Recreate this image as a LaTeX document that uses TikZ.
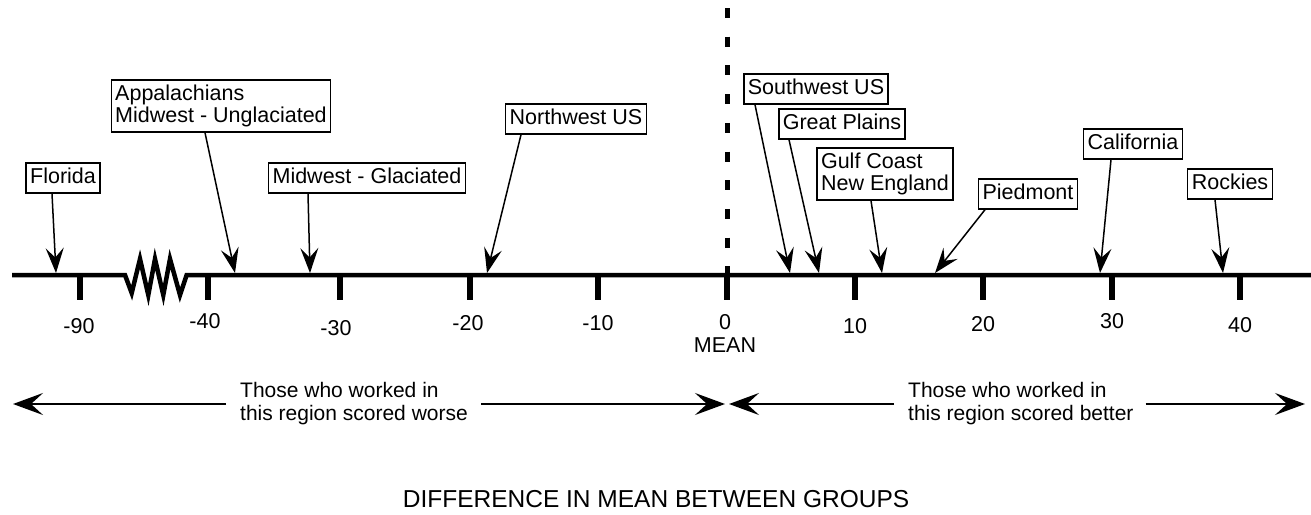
\documentclass[tikz,border=0pt]{standalone}
\usepackage{fontspec}
\setmainfont{Liberation Sans}
\usetikzlibrary{arrows.meta}
\begin{document}
\begin{tikzpicture}[x=1pt,y=-1pt,
  labone/.style={draw, line width=1.4pt, fill=white, font=\fontsize{21.5}{23}\selectfont, inner xsep=4pt, inner ysep=5.5pt, text height=15pt, text depth=4pt},
  labtwo/.style={draw, line width=1.4pt, fill=white, font=\fontsize{21.5}{22}\selectfont, inner xsep=4pt, inner ysep=5pt, align=left},
  ptr/.style={line width=1.5pt, -{Stealth[length=25pt,width=18pt,inset=9.5pt]}},
  big/.style={line width=1.8pt, -{Stealth[length=30pt,width=22pt,inset=12pt]}},
  tickmark/.style={line width=6.5pt},
  num/.style={font=\fontsize{21.5}{23}\selectfont, inner sep=0pt},
  bot/.style={font=\fontsize{21}{23}\selectfont, inner sep=0pt, align=left},
  axisline/.style={line width=4.5pt, miter limit=10}
]
\useasboundingbox (0,0) rectangle (1311,514);

% axis with break
\coordinate (al) at (12,275);
\coordinate (ar) at (1311,275);
\draw[axisline] (al) -- (125,275) -- (131.7,293) -- (140,259) -- (148.3,295) -- (155,259)
  -- (163.3,295) -- (170,259) -- (180,295) -- (186.7,275) -- (ar);

% mean dashed line
\coordinate (dtop) at (727,8);
\coordinate (dbot) at (727,275);
\draw[line width=5pt, dash pattern=on 10pt off 18.7pt] (dtop) -- (dbot);

% ticks and labels
\foreach \x/\lx/\t/\ly [count=\i] in {80/79/-90/326, 208/205/-40/321, 340/336/-30/328, 470/468/-20/323, 598/598/-10/323, 727/725/0/322, 855/855/10/326, 983/983/20/324, 1112/1112/30/321, 1240/1240/40/325}{
  \draw[tickmark] (\x,275) -- (\x,300);
  \node[num] (tl\i) at (\lx,\ly) {\t};
}
\node[num] (mean) at (725,345) {MEAN};

% label boxes
\node[labone] (flo) at (63,178) {Florida};
\node[labtwo] (app) at (221,106) {Appalachians\\Midwest - Unglaciated};
\node[labone] (mwg) at (367,178) {Midwest - Glaciated};
\node[labone] (nw) at (576,119) {Northwest US};
\node[labone] (sw) at (816,89) {Southwest US};
\node[labone] (gp) at (842,124) {Great Plains};
\node[labtwo] (gc) at (885,174) {Gulf Coast\\New England};
\node[labone] (pd) at (1028,194) {Piedmont};
\node[labone] (ca) at (1133,144) {California};
\node[labone] (ro) at (1230,184) {Rockies};

% arrow targets on axis
\coordinate (pflo) at (56,273);
\coordinate (papp) at (235,273);
\coordinate (pmwg) at (310,273);
\coordinate (pnw) at (487,273);
\coordinate (psw) at (790,273);
\coordinate (pgp) at (819,273);
\coordinate (pgc) at (882,273);
\coordinate (ppd) at (935,273);
\coordinate (pca) at (1100,273);
\coordinate (pro) at (1223,273);

\draw[ptr] ([xshift=-11pt]flo.south) -- (pflo);
\draw[ptr] ([xshift=-16pt]app.south) -- (papp);
\draw[ptr] ([xshift=-59pt]mwg.south) -- (pmwg);
\draw[ptr] ([xshift=-55pt]nw.south) -- (pnw);
\draw[ptr] ([xshift=-61pt]sw.south) -- (psw);
\draw[ptr] ([xshift=-53pt]gp.south) -- (pgp);
\draw[ptr] ([xshift=-14pt]gc.south) -- (pgc);
\draw[ptr] ([xshift=-43pt]pd.south) -- (ppd);
\draw[ptr] ([xshift=-22pt]ca.south) -- (pca);
\draw[ptr] ([xshift=-15pt]ro.south) -- (pro);

% bottom arrows and texts
\node[bot, anchor=west] (worse) at (240,404) {Those who worked in\\this region scored worse};
\node[bot, anchor=west] (better) at (908,404) {Those who worked in\\this region scored better};
\coordinate (lt) at (13,404);
\coordinate (ml) at (725,404);
\coordinate (mr) at (729,404);
\coordinate (rt) at (1305,404);
\draw[big] ([xshift=-14pt]worse.west) -- (lt);
\draw[big] ([xshift=13pt]worse.east) -- (ml);
\draw[big] ([xshift=-14pt]better.west) -- (mr);
\draw[big] ([xshift=12pt]better.east) -- (rt);

% title
\node[font=\fontsize{24.5}{26}\selectfont, inner sep=0pt] (title) at (656,499) {DIFFERENCE IN MEAN BETWEEN GROUPS};
\end{tikzpicture}
\end{document}
